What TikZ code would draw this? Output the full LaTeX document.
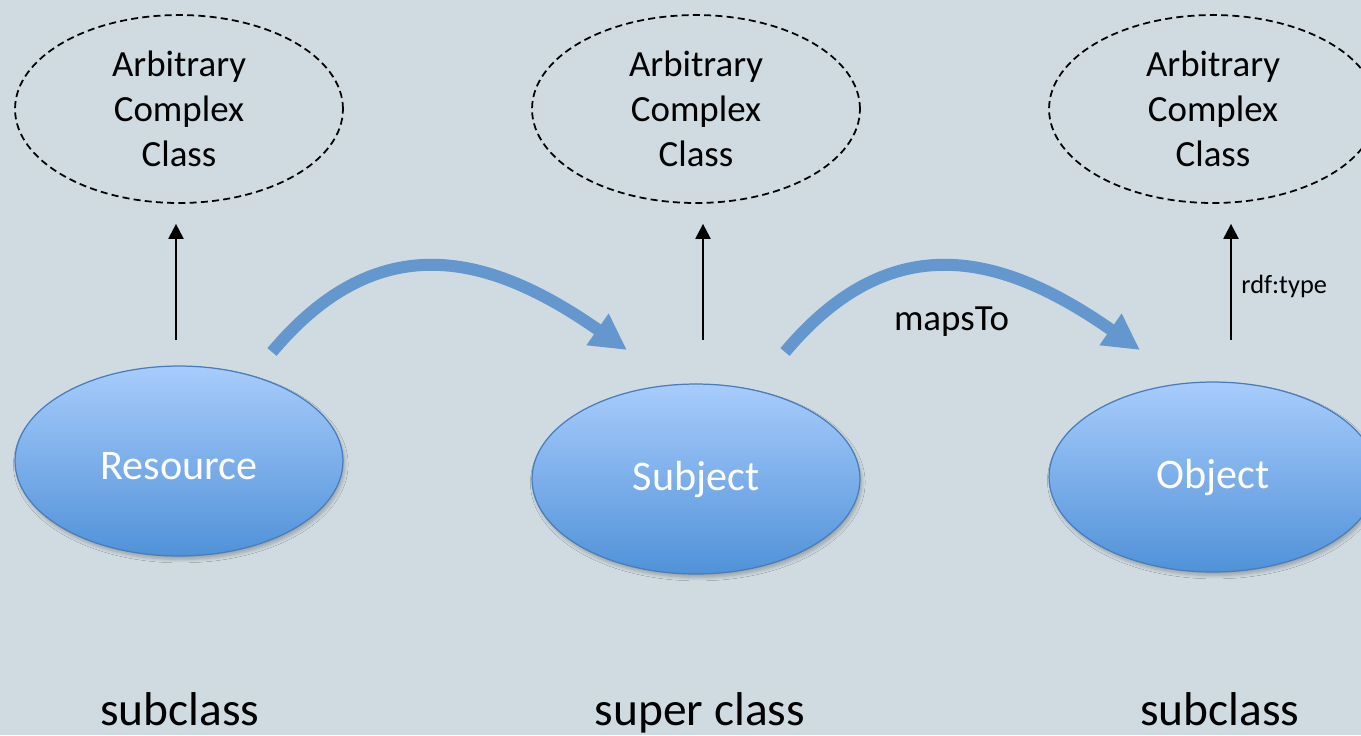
\documentclass[tikz,border=0pt]{standalone}
\usepackage{fontspec}
\setmainfont{Carlito}
\usetikzlibrary{arrows.meta, shapes.geometric, shadows.blur, positioning}
\definecolor{mybg}{RGB}{207,219,224}
\definecolor{mytop}{RGB}{168,204,252}
\definecolor{mybottom}{RGB}{80,146,216}
\definecolor{myedge}{RGB}{72,124,188}
\definecolor{myarc}{RGB}{99,151,205}
\newcommand{\ArbClass}{Arbitrary\\Complex\\Class}

\begin{document}
\begin{tikzpicture}[x=0.02cm, y=0.02cm,
  cls/.style={ellipse, draw=myedge, line width=0.7pt, top color=mytop, bottom color=mybottom,
    minimum width=6.56cm, minimum height=3.8cm, text=white, font=\fontsize{24}{29}\selectfont,
    blur shadow={shadow xshift=1pt, shadow yshift=-2pt, shadow blur steps=6, shadow opacity=25}},
  anyclass/.style={ellipse, draw, dash pattern=on 4pt off 2.4pt, line width=1pt,
    minimum width=6.56cm, minimum height=3.76cm, align=center, font=\fontsize{21}{25.6}\selectfont},
  typeof/.style={-{Triangle[length=0.3cm, width=0.3cm]}, line width=1.2pt},
  maps/.style={-{Triangle[length=0.72cm, width=0.72cm]}, line width=0.24cm, draw=myarc},
  role/.style={anchor=base, font=\fontsize{27}{32}\selectfont}]
  \fill[mybg] (0,0) rectangle (1361,-735);
  \useasboundingbox (0,0) rectangle (1361,-735);

  \node[anyclass] (A1) at (179,-109)  {\ArbClass};
  \node[anyclass] (A2) at (696,-109)  {\ArbClass};
  \node[anyclass] (A3) at (1213,-109) {\ArbClass};

  \node[cls, text height=21pt] (R) at (179,-461) {Resource};
  \node[cls] (S) at (696,-479)  {Subject};
  \node[cls] (O) at (1213,-477) {Object};

  \coordinate (R1) at (176,-340);
  \coordinate (S1) at (703,-340);
  \coordinate (O1) at (1231,-340);
  \draw[typeof] (R1) -- ([yshift=-0.4cm]A1.south -| R1);
  \draw[typeof] (S1) -- ([yshift=-0.4cm]A2.south -| S1);
  \draw[typeof] (O1) -- node[right=2pt, yshift=-0.1cm, font=\fontsize{15}{18}\selectfont]{rdf:type} ([yshift=-0.4cm]A3.south -| O1);

  \coordinate (RS0) at (272,-352);
  \coordinate (RS1) at (627,-350);
  \coordinate (SO0) at (785,-352);
  \coordinate (SO1) at (1140,-350);
  \draw[maps] (RS0) to[out=50, in=145, looseness=1.2] (RS1);
  \draw[maps] (SO0) to[out=50, in=145, looseness=1.2] node[below=0.55cm, black, font=\fontsize{21}{25}\selectfont]{mapsTo} (SO1);

  \node[role] (L1) at (180,-725)  {subclass};
  \node[role] (L2) at (700,-725)  {super class};
  \node[role] (L3) at (1220,-725) {subclass};
\end{tikzpicture}
\end{document}
